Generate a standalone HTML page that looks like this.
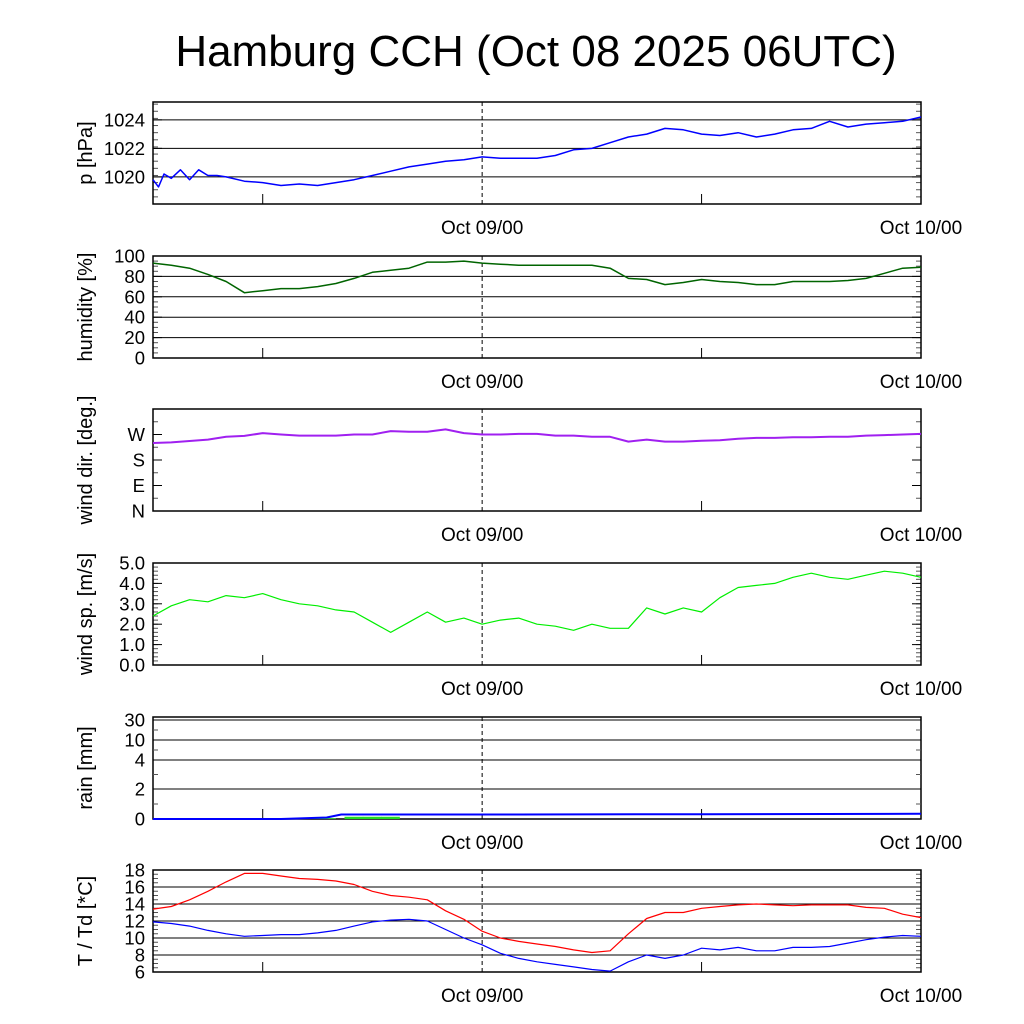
<!DOCTYPE html>
<html><head><meta charset="utf-8"><style>
body{margin:0;background:#fff;}
svg{display:block;font-family:"Liberation Sans",sans-serif;}
</style></head><body>
<svg id="chart" width="1024" height="1024" viewBox="0 0 1024 1024">
<text x="536" y="66" font-size="44" text-anchor="middle">Hamburg CCH (Oct 08 2025 06UTC)</text>
</svg>
<script>
const hours=[0,1,2,3,4,5,6,7,8,9,10,11,12,13,14,15,16,17,18,19,20,21,22,23,24,25,26,27,28,29,30,31,32,33,34,35,36,37,38,39,40,41,42];
const pressTimes=[0,0.3,0.6,1,1.5,2,2.5,3,3.5,4,5,6,7,8,9,10,11,12,13,14,15,16,17,18,19,20,21,22,23,24,25,26,27,28,29,30,31,32,33,34,35,36,37,38,39,40,41,42];
const pressure=[1019.8,1019.3,1020.2,1019.9,1020.5,1019.8,1020.5,1020.1,1020.1,1020.0,1019.7,1019.6,1019.4,1019.5,1019.4,1019.6,1019.8,1020.1,1020.4,1020.7,1020.9,1021.1,1021.2,1021.4,1021.3,1021.3,1021.3,1021.5,1021.9,1022.0,1022.4,1022.8,1023.0,1023.4,1023.3,1023.0,1022.9,1023.1,1022.8,1023.0,1023.3,1023.4,1023.9,1023.5,1023.7,1023.8,1023.9,1024.2];
const humidity=[93,91,88,82,75,64,66,68,68,70,73,78,84,86,88,94,94,95,93,92,91,91,91,91,91,88,78,77,72,74,77,75,74,72,72,75,75,75,76,78,83,88,89];
const windDir=[240,242,247,252,262,265,275,270,266,266,266,270,270,282,280,280,288,275,270,270,272,272,266,266,262,262,245,252,245,245,248,250,255,258,258,260,260,262,262,266,268,270,272];
const windSpeed=[2.4,2.9,3.2,3.1,3.4,3.3,3.5,3.2,3.0,2.9,2.7,2.6,2.1,1.6,2.1,2.6,2.1,2.3,2.0,2.2,2.3,2.0,1.9,1.7,2.0,1.8,1.8,2.8,2.5,2.8,2.6,3.3,3.8,3.9,4.0,4.3,4.5,4.3,4.2,4.4,4.6,4.5,4.3];
const rainTimes=[0,7,9.5,10.3,20,30,42];
const rainSum=[0,0,0.1,0.3,0.3,0.32,0.35];
const rainBarTimes=[7,8,9,10.5,11.5,12.5];
const rainBars=[0.03,0.04,0.05,0.15,0.15,0.15];
const temp=[13.4,13.7,14.5,15.5,16.6,17.6,17.6,17.3,17.0,16.9,16.7,16.3,15.5,15.0,14.8,14.5,13.2,12.2,10.8,10.0,9.6,9.3,9.0,8.6,8.3,8.5,10.5,12.3,13.0,13.0,13.5,13.7,13.9,14.0,13.9,13.8,13.9,13.9,13.9,13.6,13.5,12.8,12.4];
const dew=[11.9,11.7,11.4,10.9,10.5,10.2,10.3,10.4,10.4,10.6,10.9,11.4,11.9,12.1,12.2,12.0,11.0,10.0,9.2,8.2,7.6,7.2,6.9,6.6,6.3,6.1,7.2,8.0,7.6,8.0,8.8,8.6,8.9,8.5,8.5,8.9,8.9,9.0,9.4,9.8,10.1,10.3,10.2];
const pTicks=["1020","1022","1024"], hTicks=["0","20","40","60","80","100"], dTicks=["N","E","S","W"], sTicks=["0.0","1.0","2.0","3.0","4.0","5.0"], rTicks=["0","2","4","10","30"], tTicks=["6","8","10","12","14","16","18"];
const xLabels=["Oct 09/00","Oct 10/00"];

const NS="http://www.w3.org/2000/svg";
const svg=document.getElementById('chart');
const X0=153,X1=921,H0=0,H1=42;
function xs(h){return X0+(h-H0)/(H1-H0)*(X1-X0);}
function mk(tag,at,parent){const e=document.createElementNS(NS,tag);for(const k in at)e.setAttribute(k,at[k]);(parent||svg).appendChild(e);return e;}

function panel(name,top,bot,ys,ymin,ymax,grid,ticks,tickVals,minorStep,label){
  const g=mk('g',{});
  
  
  grid.forEach(v=>{const l=mk('line',{x1:X0,x2:X1,y1:ys(v),y2:ys(v),stroke:'#000','stroke-width':1},g);
    });
  if(minorStep){for(let v=ymin;v<=ymax+1e-9;v+=minorStep){const y=ys(v);
    mk('line',{x1:X0,x2:X0+5,y1:y,y2:y,stroke:'#555','stroke-width':1},g);
    mk('line',{x1:X1-5,x2:X1,y1:y,y2:y,stroke:'#555','stroke-width':1},g);}}
  ticks.forEach((t,i)=>{const y=ys(tickVals[i]);
    mk('line',{x1:X0,x2:X0+9,y1:y,y2:y,stroke:'#000'},g);
    mk('line',{x1:X1-9,x2:X1,y1:y,y2:y,stroke:'#000'},g);
    const tx=mk('text',{x:X0-8,y:y+6.5,'font-size':18.5,'text-anchor':'end'},g);tx.textContent=t;
    });
  [6,30].forEach(h=>{mk('line',{x1:xs(h),x2:xs(h),y1:bot,y2:bot-10,stroke:'#000'},g);});
  mk('line',{x1:xs(18),x2:xs(18),y1:top,y2:bot,stroke:'#000','stroke-dasharray':'4,3'},g);
  [18,42].forEach((h,i)=>{const tx=mk('text',{x:xs(h),y:bot+30,'font-size':19,'text-anchor':'middle'},g);tx.textContent=xLabels[i];
    });
  const yl=mk('text',{x:0,y:0,'font-size':20,'text-anchor':'middle',transform:`translate(92,${(top+bot)/2}) rotate(-90)`},g);yl.textContent=label;
  
  const fr=mk('rect',{x:X0,y:top,width:X1-X0,height:bot-top,fill:'none',stroke:'#000','stroke-width':1.5},g);
  
  return g;
}
function line(g,name,ts,vals,ys,color,w){
  const d=ts.map((t,i)=>(i?'L':'M')+xs(t).toFixed(1)+','+ys(vals[i]).toFixed(1)).join('');
  const p=mk('path',{d:d,fill:'none',stroke:color,'stroke-width':w||1.5,'stroke-linejoin':'round'},g);
  
}
function lin(top,bot,a,b){return v=>bot-(v-a)/(b-a)*(bot-top);}

let ys=lin(102,204,1018.1,1025.25);
let g=panel('pressure',102,204,ys,1018.1,1025.25,[1020,1022,1024],pTicks,pTicks.map(Number),0.5,'p [hPa]');
line(g,'pressure-line',pressTimes,pressure,ys,'#0000ff');
ys=lin(256,358,0,100);
g=panel('humidity',256,358,ys,0,100,[20,40,60,80],hTicks,hTicks.map(Number),5,'humidity [%]');
line(g,'humidity-line',hours,humidity,ys,'#006400');
ys=lin(409,511,0,360);
g=panel('wind-direction',409,511,ys,0,360,[],dTicks,[0,90,180,270],45,'wind dir. [deg.]');
line(g,'wind-direction-line',hours,windDir,ys,'#a020f0',2);
ys=lin(563,665,0,5);
g=panel('wind-speed',563,665,ys,0,5,[],sTicks,sTicks.map(Number),0.2,'wind sp. [m/s]');
line(g,'wind-speed-line',hours,windSpeed,ys,'#00ee00',1.2);
const rv=[0,2,4,10,30,40],ry=[819,789,760,740,720,717];
ys=v=>{for(let i=0;i<rv.length-1;i++){if(v<=rv[i+1])return ry[i]+(v-rv[i])/(rv[i+1]-rv[i])*(ry[i+1]-ry[i]);}return 717;};
g=panel('rain',717,819,ys,0,0,[2,4,10,30],rTicks,rTicks.map(Number),0,'rain [mm]');
[1,3,7,20].forEach(v=>{mk('line',{x1:X0,x2:X0+5,y1:ys(v),y2:ys(v),stroke:'#555'},g);mk('line',{x1:X1-5,x2:X1,y1:ys(v),y2:ys(v),stroke:'#555'},g);});
rainBarTimes.forEach((t,i)=>{const r=mk('rect',{x:xs(t)-0.5,y:ys(rainBars[i]),width:xs(1)-xs(0)+0.5,height:819-ys(rainBars[i]),fill:'#22dd22'},g);
  });
line(g,'rain-sum-line',rainTimes,rainSum,ys,'#0000ff',2);
ys=lin(870,972,6,18);
g=panel('temperature',870,972,ys,6,18,[8,10,12,14,16],tTicks,tTicks.map(Number),0.5,'T / Td [*C]');
line(g,'temperature-line',hours,temp,ys,'#ff0000',1.2);
line(g,'dewpoint-line',hours,dew,ys,'#0000ff',1.2);
</script>
</body></html>
